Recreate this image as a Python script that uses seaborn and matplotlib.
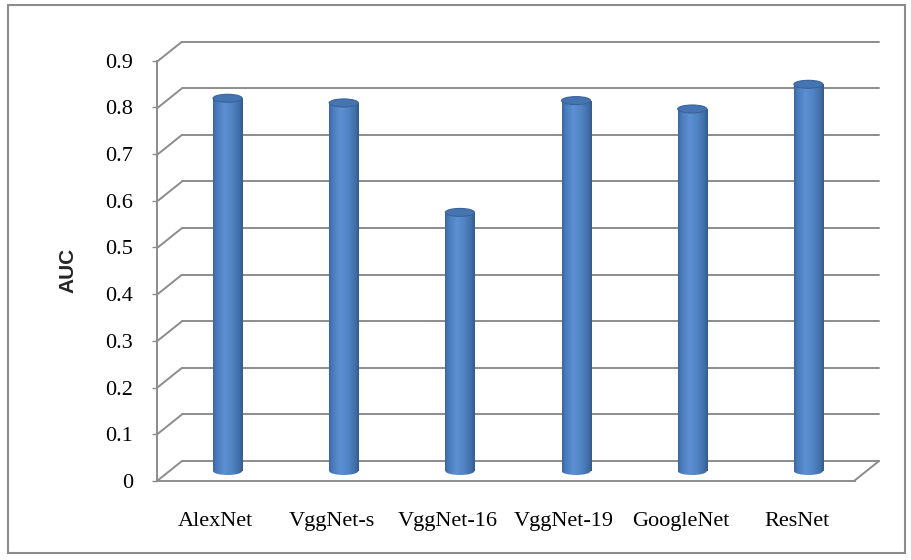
import matplotlib
matplotlib.use("Agg")
import matplotlib.pyplot as plt
import seaborn as sns
import numpy as np
import pandas as pd
from matplotlib.patches import Ellipse, Rectangle
from matplotlib.colors import LinearSegmentedColormap

# ---- data ----
models = ["AlexNet", "VggNet-s", "VggNet-16", "VggNet-19", "GoogleNet", "ResNet"]
auc = [0.80, 0.79, 0.555, 0.795, 0.777, 0.83]
yticks = [0.0, 0.1, 0.2, 0.3, 0.4, 0.5, 0.6, 0.7, 0.8, 0.9]
ytick_labels = ["0", "0.1", "0.2", "0.3", "0.4", "0.5", "0.6", "0.7", "0.8", "0.9"]

sns.set_style("white")
plt.rcParams['font.family'] = ['Liberation Serif', 'DejaVu Serif']

W, H = 911, 560
fig = plt.figure(figsize=(W / 100, H / 100), dpi=100)


def px_axes(left, top, right, bottom):
    return fig.add_axes([left / W, 1 - bottom / H, (right - left) / W, (bottom - top) / H])


grid_c = "#8c8c8c"
lw = 1.4

# depth offset of the 3-D box (pixels)
DX, DY = 25.0, 20.0

# ---- back wall ----
back = px_axes(182, 41.7, 879, 461)
back.set_xlim(-0.5, 5.5)
back.set_ylim(0, 0.9)
back.axis('off')
ppx = (879 - 182) / 6.0
ppy = (461 - 41.7) / 0.9
for t in yticks:
    back.axhline(t, color=grid_c, lw=lw, clip_on=False, zorder=1)
    back.plot([-0.5 - DX / ppx, -0.5], [t - DY / ppy, t], color=grid_c, lw=lw,
              clip_on=False, zorder=1, solid_capstyle='butt')
# right floor edge
back.plot([5.5 - DX / ppx, 5.5], [-DY / ppy, 0], color=grid_c, lw=lw, clip_on=False, zorder=1)

# ---- front plane (axis with ticks and labels) ----
front = px_axes(157, 60.7, 855, 481)
front.patch.set_alpha(0)
front.set_xlim(-0.5, 5.5)
front.set_ylim(0, 0.9)
for s in ["top", "right"]:
    front.spines[s].set_visible(False)
for s in ["left", "bottom"]:
    front.spines[s].set_color(grid_c)
    front.spines[s].set_linewidth(lw)
front.set_yticks(yticks, ytick_labels)
front.set_xticks(range(len(models)), models)
front.tick_params(axis='y', length=3.6, width=1.0, color=grid_c, pad=13.5,
                  labelsize=16, labelcolor="black", left=True)
front.tick_params(axis='x', length=0, pad=22.5, labelsize=16, labelcolor="black")
front.set_ylabel("AUC", fontsize=15, fontweight='bold', family=['Liberation Sans', 'DejaVu Sans'],
                 ha='center', va='center')
front.yaxis.set_label_coords((68 - 157) / 698, 0.5)

# ---- mid-depth plane: cylinders ----
EXTRA = 8.0  # px of room below zero for the rounded cylinder bottoms
mid = px_axes(182 - DX / 2, 41.7 + DY / 2, 879 - DX / 2, 461 + DY / 2 + EXTRA)
df = pd.DataFrame({"model": models, "AUC": auc})
sns.barplot(data=df, x="model", y="AUC", ax=mid, color="#4f81bd", width=0.25,
            saturation=1, edgecolor="none", errorbar=None)
ymin = -EXTRA / ppy

cyl = LinearSegmentedColormap.from_list("cyl", [
    (0.0, "#3a67a2"), (0.12, "#4a7cbd"), (0.38, "#5c90d2"),
    (0.65, "#5184c4"), (0.88, "#416fa9"), (1.0, "#335b8f")])
grad = np.linspace(0, 1, 64).reshape(1, -1)
eh = 8.0 / ppy

for p in list(mid.patches):
    x0, w, h = p.get_x(), p.get_width(), p.get_height()
    xc = x0 + w / 2
    p.set_alpha(0)
    im = mid.imshow(grad, extent=[x0, x0 + w, 0, h], aspect='auto', cmap=cyl,
                    zorder=3, interpolation='bilinear')
    im.set_clip_path(p)
    # rounded bottom
    bot = Ellipse((xc, 0), w, eh, facecolor='none', edgecolor='none')
    mid.add_patch(bot)
    im2 = mid.imshow(grad, extent=[x0, x0 + w, -eh / 2, 0.001], aspect='auto', cmap=cyl,
                     zorder=3, interpolation='bilinear')
    im2.set_clip_path(bot)
    # top cap
    mid.add_patch(Ellipse((xc, h), w, eh, facecolor="#4674b0", edgecolor="#37639e",
                          lw=0.8, zorder=4, clip_on=False))

mid.set_xlim(-0.5, 5.5)
mid.set_ylim(ymin, 0.9)
mid.axis('off')
mid.patch.set_alpha(0)

# outer frame
fig.add_artist(Rectangle((8 / W, 1 - 553 / H), (905 - 8) / W, (553 - 5) / H,
                         transform=fig.transFigure, fill=False, edgecolor=grid_c, lw=1.5))

fig.savefig("out.png", dpi=100)
